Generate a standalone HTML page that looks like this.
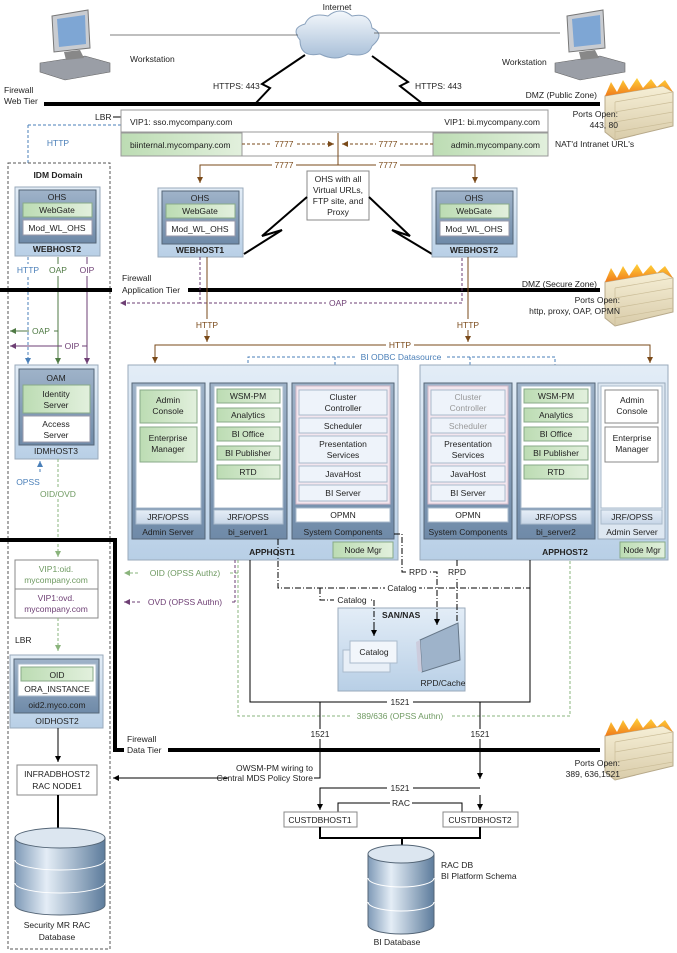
<!DOCTYPE html>
<html><head><meta charset="utf-8"><style>
html,body{margin:0;padding:0;background:#fff}
svg{display:block;font-family:"Liberation Sans",sans-serif}
text{font-size:8.5px;fill:#222}
.c{text-anchor:middle}.r{text-anchor:end}.b{font-weight:bold}
</style></head><body>
<svg width="677" height="953" viewBox="0 0 677 953" xmlns="http://www.w3.org/2000/svg">
<defs>
<linearGradient id="host" x1="0" y1="0" x2="0" y2="1"><stop offset="0" stop-color="#e3edf7"/><stop offset="1" stop-color="#b8cfe6"/></linearGradient>
<linearGradient id="col" x1="0" y1="0" x2="0" y2="1"><stop offset="0" stop-color="#9fb3c9"/><stop offset="1" stop-color="#6f8aa8"/></linearGradient>
<linearGradient id="grn" x1="0" y1="0" x2="1" y2="0"><stop offset="0" stop-color="#bcdcb3"/><stop offset="1" stop-color="#e2f0dd"/></linearGradient>
<linearGradient id="jrf" x1="0" y1="0" x2="0" y2="1"><stop offset="0" stop-color="#e6eef7"/><stop offset="1" stop-color="#c7d6e7"/></linearGradient>
<linearGradient id="cyl" x1="0" y1="0" x2="1" y2="0"><stop offset="0" stop-color="#7f9ab7"/><stop offset=".35" stop-color="#e4edf6"/><stop offset="1" stop-color="#5d7c9c"/></linearGradient>
<linearGradient id="wall" x1="0" y1="0" x2="0" y2="1"><stop offset="0" stop-color="#f6efd6"/><stop offset="1" stop-color="#d9ccaa"/></linearGradient>
<linearGradient id="fire" x1="0" y1="0" x2="0" y2="1"><stop offset="0" stop-color="#ffd23a"/><stop offset="1" stop-color="#f07a1a"/></linearGradient>
<linearGradient id="cloud" x1="0" y1="0" x2="0" y2="1"><stop offset="0" stop-color="#f4f8fc"/><stop offset="1" stop-color="#a8bfd8"/></linearGradient>
<marker id="ab" markerWidth="8" markerHeight="8" refX="6" refY="3" orient="auto"><path d="M0,0 L6,3 L0,6 z" fill="#000"/></marker>
<marker id="abr" markerWidth="8" markerHeight="8" refX="6" refY="3" orient="auto"><path d="M0,0 L6,3 L0,6 z" fill="#7a4a1a"/></marker>
<marker id="abl" markerWidth="8" markerHeight="8" refX="6" refY="3" orient="auto"><path d="M0,0 L6,3 L0,6 z" fill="#4a7fb8"/></marker>
<marker id="agr" markerWidth="8" markerHeight="8" refX="6" refY="3" orient="auto"><path d="M0,0 L6,3 L0,6 z" fill="#4f7a44"/></marker>
<marker id="apu" markerWidth="8" markerHeight="8" refX="6" refY="3" orient="auto"><path d="M0,0 L6,3 L0,6 z" fill="#6e3f74"/></marker>
<marker id="alg" markerWidth="8" markerHeight="8" refX="6" refY="3" orient="auto"><path d="M0,0 L6,3 L0,6 z" fill="#8ab47c"/></marker>
<g id="ws">
<path d="M12,8 L48,2 L50,40 L14,44 z" fill="#c9ccd1" stroke="#777"/>
<path d="M17,11 L45,7 L46,36 L19,39 z" fill="#7ea6d4"/>
<path d="M0,55 L45,48 L70,55 L70,64 L25,72 L0,64 z" fill="#9a9ea6" stroke="#666" stroke-width=".6"/>
<path d="M24,44 L40,42 L44,50 L26,52 z" fill="#888"/>
</g>
<g id="fw">
<path d="M4,14 L62,4 L72,10 L72,44 L14,58 L4,50 z" fill="url(#wall)" stroke="#b7a98a"/>
<path d="M4,14 L10,0 L16,10 L22,-2 L28,8 L36,-4 L42,6 L50,-3 L56,5 L64,-2 L72,10 L62,4 z" fill="url(#fire)"/>
<path d="M14,20 L72,10 M14,30 L72,20 M14,40 L72,30 M14,50 L72,40 M14,20 L14,58" stroke="#cbbd98" stroke-width=".7" fill="none"/>
</g>
<g id="wh">
<rect x="0" y="0" width="85" height="69" fill="url(#host)" stroke="#9ab"/>
<rect x="4" y="3" width="77" height="53" fill="url(#col)" stroke="#567"/>
<text x="42" y="13" class="c">OHS</text>
<rect x="8" y="16" width="69" height="14" fill="url(#grn)" stroke="#8a8"/>
<text x="42" y="26" class="c">WebGate</text>
<rect x="8" y="33" width="69" height="15" fill="#fff" stroke="#99a"/>
<text x="42" y="44" class="c">Mod_WL_OHS</text>
</g>
</defs>

<text x="337" y="10" class="c">Internet</text>
<path d="M300,40 Q290,28 305,24 Q310,12 328,16 Q340,6 352,16 Q370,12 372,28 Q386,34 372,46 Q368,58 348,54 Q336,62 320,54 Q300,58 300,40 z" fill="url(#cloud)" stroke="#8aa2bd"/>
<line x1="110" y1="35" x2="298" y2="35" stroke="#555" stroke-width=".8"/>
<line x1="374" y1="33" x2="560" y2="33" stroke="#555" stroke-width=".8"/>
<use href="#ws" x="40" y="8"/>
<text x="130" y="62">Workstation</text>
<use href="#ws" x="555" y="8"/>
<text x="502" y="65">Workstation</text>
<path d="M305,55 L262,84 L270,88 L255,104" stroke="#000" stroke-width="2" fill="none"/>
<path d="M372,56 L408,82 L400,86 L423,104" stroke="#000" stroke-width="2" fill="none"/>
<text x="213" y="89">HTTPS: 443</text>
<text x="415" y="89">HTTPS: 443</text>

<text x="4" y="93">Firewall</text><text x="4" y="104">Web Tier</text>
<rect x="44" y="102" width="556" height="4" fill="#000"/>
<text x="597" y="98" class="r">DMZ (Public Zone)</text>
<use href="#fw" x="601" y="82"/>
<text x="618" y="117" class="r">Ports Open:</text><text x="618" y="128" class="r">443, 80</text>
<text x="555" y="147">NAT'd Intranet URL's</text>

<text x="95" y="120">LBR</text><line x1="113" y1="117" x2="121" y2="117" stroke="#000"/>
<line x1="28" y1="125" x2="121" y2="125" stroke="#4a7fb8" stroke-dasharray="3,2"/>
<line x1="28" y1="125" x2="28" y2="163" stroke="#4a7fb8" stroke-dasharray="3,2"/>
<text x="58" y="146" class="c" style="fill:#4a7fb8">HTTP</text>
<rect x="121" y="110" width="427" height="46" fill="#fff" stroke="#999"/>
<text x="130" y="125">VIP1: sso.mycompany.com</text>
<text x="540" y="125" class="r">VIP1: bi.mycompany.com</text>
<line x1="121" y1="132" x2="548" y2="132" stroke="#999"/>
<rect x="121" y="133" width="121" height="23" fill="url(#grn)" stroke="#999"/>
<rect x="433" y="133" width="115" height="23" fill="url(#grn)" stroke="#999"/>
<text x="130" y="148">biinternal.mycompany.com</text>
<text x="540" y="148" class="r">admin.mycompany.com</text>
<line x1="338" y1="133" x2="338" y2="165" stroke="#7a4a1a"/>
<line x1="242" y1="144" x2="334" y2="144" stroke="#7a4a1a" stroke-dasharray="3,2" marker-end="url(#abr)"/>
<line x1="433" y1="144" x2="342" y2="144" stroke="#7a4a1a" stroke-dasharray="3,2" marker-end="url(#abr)"/>
<rect x="272" y="138" width="24" height="11" fill="#fff"/><text x="284" y="147" class="c" style="fill:#7a4a1a">7777</text>
<rect x="376" y="138" width="24" height="11" fill="#fff"/><text x="388" y="147" class="c" style="fill:#7a4a1a">7777</text>
<path d="M200,182 V165 H475 V182" stroke="#7a4a1a" fill="none"/>
<line x1="200" y1="170" x2="200" y2="183" stroke="#7a4a1a" marker-end="url(#abr)"/>
<line x1="475" y1="170" x2="475" y2="183" stroke="#7a4a1a" marker-end="url(#abr)"/>
<rect x="272" y="160" width="24" height="11" fill="#fff"/><text x="284" y="168" class="c" style="fill:#7a4a1a">7777</text>
<rect x="376" y="160" width="24" height="11" fill="#fff"/><text x="388" y="168" class="c" style="fill:#7a4a1a">7777</text>

<rect x="307" y="171" width="62" height="49" fill="#fff" stroke="#888"/>
<text x="338" y="182" class="c">OHS with all</text><text x="338" y="193" class="c">Virtual URLs,</text><text x="338" y="204" class="c">FTP site, and</text><text x="338" y="215" class="c">Proxy</text>
<path d="M307,197 L262,236 L282,230 L244,254" stroke="#000" stroke-width="2" fill="none"/>
<path d="M369,197 L410,236 L392,230 L432,254" stroke="#000" stroke-width="2" fill="none"/>

<use href="#wh" x="158" y="188"/><text x="200" y="253" class="c b">WEBHOST1</text>
<use href="#wh" x="432" y="188"/><text x="474" y="253" class="c b">WEBHOST2</text>

<rect x="8" y="163" width="102" height="786" fill="none" stroke="#555" stroke-dasharray="3,2"/>
<text x="58" y="178" class="c b">IDM Domain</text>
<use href="#wh" x="15" y="187"/><text x="57" y="252" class="c b">WEBHOST2</text>
<line x1="28" y1="257" x2="28" y2="364" stroke="#4a7fb8" stroke-dasharray="3,2" marker-end="url(#abl)"/>
<line x1="58" y1="257" x2="58" y2="364" stroke="#4f7a44" marker-end="url(#agr)"/>
<line x1="87" y1="257" x2="87" y2="364" stroke="#6e3f74" marker-end="url(#apu)"/>
<rect x="18" y="264" width="80" height="12" fill="#fff"/>
<text x="28" y="273" class="c" style="fill:#4a7fb8">HTTP</text>
<text x="58" y="273" class="c" style="fill:#4f7a44">OAP</text>
<text x="87" y="273" class="c" style="fill:#6e3f74">OIP</text>
<line x1="58" y1="331" x2="10" y2="331" stroke="#4f7a44" marker-end="url(#agr)"/>
<rect x="29" y="326" width="25" height="10" fill="#fff"/><text x="41" y="334" class="c" style="fill:#4f7a44">OAP</text>
<line x1="87" y1="346" x2="10" y2="346" stroke="#6e3f74" marker-end="url(#apu)"/>
<rect x="62" y="341" width="20" height="10" fill="#fff"/><text x="72" y="349" class="c" style="fill:#6e3f74">OIP</text>

<rect x="0" y="288" width="112" height="4" fill="#000"/>
<rect x="188" y="288" width="412" height="4" fill="#000"/>
<text x="122" y="281">Firewall</text><text x="122" y="293">Application Tier</text>
<text x="597" y="287" class="r">DMZ (Secure Zone)</text>
<use href="#fw" x="601" y="268"/>
<text x="620" y="303" class="r">Ports Open:</text><text x="620" y="314" class="r">http, proxy, OAP, OPMN</text>

<path d="M200,257 V303 H462 V257" stroke="#6e3f74" stroke-dasharray="3,2" fill="none"/>
<line x1="200" y1="303" x2="120" y2="303" stroke="#6e3f74" stroke-dasharray="3,2" marker-end="url(#apu)"/>
<rect x="326" y="298" width="24" height="10" fill="#fff"/><text x="338" y="306" class="c" style="fill:#6e3f74">OAP</text>
<line x1="207" y1="257" x2="207" y2="342" stroke="#7a4a1a" marker-end="url(#abr)"/>
<line x1="468" y1="257" x2="468" y2="342" stroke="#7a4a1a" marker-end="url(#abr)"/>
<rect x="194" y="319" width="26" height="11" fill="#fff"/><text x="207" y="328" class="c" style="fill:#7a4a1a">HTTP</text>
<rect x="455" y="319" width="26" height="11" fill="#fff"/><text x="468" y="328" class="c" style="fill:#7a4a1a">HTTP</text>
<path d="M155,362 V345 H650 V362" stroke="#7a4a1a" fill="none"/>
<line x1="155" y1="350" x2="155" y2="363" stroke="#7a4a1a" marker-end="url(#abr)"/>
<line x1="650" y1="350" x2="650" y2="363" stroke="#7a4a1a" marker-end="url(#abr)"/>
<rect x="386" y="340" width="28" height="10" fill="#fff"/><text x="400" y="348" class="c" style="fill:#7a4a1a">HTTP</text>
<path d="M248,368 V357 H555 V368" stroke="#4a7fb8" stroke-dasharray="3,2" fill="none"/>
<line x1="335" y1="357" x2="335" y2="376" stroke="#4a7fb8" stroke-dasharray="3,2" marker-end="url(#abl)"/>
<line x1="470" y1="357" x2="470" y2="376" stroke="#4a7fb8" stroke-dasharray="3,2" marker-end="url(#abl)"/>
<rect x="355" y="352" width="92" height="10" fill="#fff"/><text x="401" y="360" class="c" style="fill:#4a7fb8">BI ODBC Datasource</text>

<rect x="15" y="365" width="83" height="94" fill="url(#host)" stroke="#9ab"/>
<rect x="19" y="369" width="75" height="76" fill="url(#col)" stroke="#567"/>
<text x="56" y="381" class="c">OAM</text>
<rect x="23" y="385" width="67" height="28" fill="url(#grn)" stroke="#8a8"/>
<text x="56" y="397" class="c">Identity</text><text x="56" y="408" class="c">Server</text>
<rect x="23" y="416" width="67" height="26" fill="#fff" stroke="#99a"/>
<text x="56" y="427" class="c">Access</text><text x="56" y="438" class="c">Server</text>
<text x="56" y="454" class="c">IDMHOST3</text>
<line x1="40" y1="472" x2="40" y2="461" stroke="#4a7fb8" stroke-dasharray="3,2" marker-end="url(#abl)"/>
<text x="28" y="485" class="c" style="fill:#4a7fb8">OPSS</text>
<line x1="58" y1="459" x2="58" y2="557" stroke="#8ab47c" stroke-dasharray="3,2" marker-end="url(#alg)"/>
<rect x="34" y="489" width="48" height="10" fill="#fff"/><text x="58" y="497" class="c" style="fill:#6f9a62">OID/OVD</text>

<rect x="128" y="365" width="270" height="195" fill="url(#host)" stroke="#9ab"/>
<rect x="132" y="383" width="73" height="156" fill="url(#col)" stroke="#567"/>
<rect x="136" y="386" width="65" height="122" fill="#fff" stroke="#abc"/>
<rect x="140" y="390" width="57" height="33" fill="url(#grn)" stroke="#8a8"/>
<text x="168" y="403" class="c">Admin</text><text x="168" y="414" class="c">Console</text>
<rect x="140" y="427" width="57" height="35" fill="url(#grn)" stroke="#8a8"/>
<text x="168" y="441" class="c">Enterprise</text><text x="168" y="452" class="c">Manager</text>
<rect x="136" y="510" width="65" height="14" fill="url(#jrf)" stroke="#abc"/><text x="168" y="520" class="c">JRF/OPSS</text>
<text x="168" y="535" class="c">Admin Server</text>

<rect x="210" y="383" width="77" height="156" fill="url(#col)" stroke="#567"/>
<rect x="214" y="386" width="69" height="122" fill="#fff" stroke="#abc"/>
<g fill="url(#grn)" stroke="#8a8">
<rect x="217" y="389" width="63" height="14"/><rect x="217" y="408" width="63" height="14"/><rect x="217" y="427" width="63" height="14"/><rect x="217" y="446" width="63" height="14"/><rect x="217" y="465" width="63" height="14"/>
</g>
<text x="248" y="399" class="c">WSM-PM</text><text x="248" y="418" class="c">Analytics</text><text x="248" y="437" class="c">BI Office</text><text x="248" y="456" class="c">BI Publisher</text><text x="248" y="475" class="c">RTD</text>
<rect x="214" y="510" width="69" height="14" fill="url(#jrf)" stroke="#abc"/><text x="248" y="520" class="c">JRF/OPSS</text>
<text x="248" y="535" class="c">bi_server1</text>

<rect x="292" y="383" width="102" height="156" fill="url(#col)" stroke="#567"/>
<rect x="296" y="386" width="94" height="118" fill="#f3e6ee" stroke="#d3b9c8"/>
<g fill="#eef3fa" stroke="#abc">
<rect x="299" y="390" width="88" height="25"/><rect x="299" y="418" width="88" height="15"/><rect x="299" y="436" width="88" height="27"/><rect x="299" y="466" width="88" height="16"/><rect x="299" y="485" width="88" height="16"/>
</g>
<text x="343" y="400" class="c">Cluster</text><text x="343" y="411" class="c">Controller</text>
<text x="343" y="429" class="c">Scheduler</text>
<text x="343" y="447" class="c">Presentation</text><text x="343" y="458" class="c">Services</text>
<text x="343" y="477" class="c">JavaHost</text><text x="343" y="496" class="c">BI Server</text>
<rect x="296" y="508" width="94" height="14" fill="#fff" stroke="#abc"/><text x="343" y="518" class="c">OPMN</text>
<text x="343" y="535" class="c">System Components</text>
<text x="272" y="555" class="c b">APPHOST1</text>
<rect x="333" y="542" width="60" height="16" fill="url(#grn)" stroke="#8a8"/><text x="363" y="553" class="c">Node Mgr</text>

<rect x="420" y="365" width="248" height="195" fill="url(#host)" stroke="#9ab"/>
<rect x="424" y="383" width="88" height="156" fill="url(#col)" stroke="#567"/>
<rect x="428" y="386" width="80" height="118" fill="#f3e6ee" stroke="#d3b9c8"/>
<g fill="#eef3fa" stroke="#abc">
<rect x="431" y="390" width="74" height="25"/><rect x="431" y="418" width="74" height="15"/><rect x="431" y="436" width="74" height="27"/><rect x="431" y="466" width="74" height="16"/><rect x="431" y="485" width="74" height="16"/>
</g>
<text x="468" y="400" class="c" style="fill:#999">Cluster</text><text x="468" y="411" class="c" style="fill:#999">Controller</text>
<text x="468" y="429" class="c" style="fill:#999">Scheduler</text>
<text x="468" y="447" class="c">Presentation</text><text x="468" y="458" class="c">Services</text>
<text x="468" y="477" class="c">JavaHost</text><text x="468" y="496" class="c">BI Server</text>
<rect x="428" y="508" width="80" height="14" fill="#fff" stroke="#abc"/><text x="468" y="518" class="c">OPMN</text>
<text x="468" y="535" class="c">System Components</text>

<rect x="517" y="383" width="78" height="156" fill="url(#col)" stroke="#567"/>
<rect x="521" y="386" width="70" height="122" fill="#fff" stroke="#abc"/>
<g fill="url(#grn)" stroke="#8a8">
<rect x="524" y="389" width="64" height="14"/><rect x="524" y="408" width="64" height="14"/><rect x="524" y="427" width="64" height="14"/><rect x="524" y="446" width="64" height="14"/><rect x="524" y="465" width="64" height="14"/>
</g>
<text x="556" y="399" class="c">WSM-PM</text><text x="556" y="418" class="c">Analytics</text><text x="556" y="437" class="c">BI Office</text><text x="556" y="456" class="c">BI Publisher</text><text x="556" y="475" class="c">RTD</text>
<rect x="521" y="510" width="70" height="14" fill="url(#jrf)" stroke="#abc"/><text x="556" y="520" class="c">JRF/OPSS</text>
<text x="556" y="535" class="c">bi_server2</text>

<rect x="598" y="383" width="67" height="156" fill="#dde7f1" stroke="#9ab"/>
<rect x="601" y="386" width="61" height="122" fill="#fff" stroke="#abc"/>
<rect x="605" y="390" width="53" height="33" fill="#fff" stroke="#888"/>
<text x="632" y="403" class="c">Admin</text><text x="632" y="414" class="c">Console</text>
<rect x="605" y="427" width="53" height="35" fill="#fff" stroke="#888"/>
<text x="632" y="441" class="c">Enterprise</text><text x="632" y="452" class="c">Manager</text>
<rect x="601" y="510" width="61" height="14" fill="url(#jrf)" stroke="#abc"/><text x="632" y="520" class="c">JRF/OPSS</text>
<text x="632" y="535" class="c">Admin Server</text>
<text x="565" y="555" class="c b">APPHOST2</text>
<rect x="620" y="542" width="45" height="16" fill="url(#grn)" stroke="#8a8"/><text x="642" y="553" class="c">Node Mgr</text>

<path d="M0,540 H115 V750 H600" stroke="#000" stroke-width="4" fill="none"/>
<rect x="124" y="733" width="44" height="24" fill="#fff"/>
<text x="127" y="742">Firewall</text><text x="127" y="753">Data Tier</text>
<use href="#fw" x="601" y="722"/>
<text x="620" y="766" class="r">Ports Open:</text><text x="620" y="777" class="r">389, 636,1521</text>

<rect x="15" y="560" width="83" height="58" fill="#fff" stroke="#888"/>
<line x1="15" y1="589" x2="98" y2="589" stroke="#888"/>
<text x="56" y="572" class="c" style="fill:#6f9a62">VIP1:oid.</text><text x="56" y="583" class="c" style="fill:#6f9a62">mycompany.com</text>
<text x="56" y="601" class="c" style="fill:#6e3f74">VIP1:ovd.</text><text x="56" y="612" class="c" style="fill:#6e3f74">mycompany.com</text>
<text x="15" y="643">LBR</text>
<line x1="58" y1="618" x2="58" y2="651" stroke="#8ab47c" stroke-dasharray="3,2" marker-end="url(#alg)"/>
<rect x="10" y="655" width="93" height="73" fill="url(#host)" stroke="#9ab"/>
<rect x="14" y="659" width="85" height="54" fill="url(#col)" stroke="#567"/>
<rect x="18" y="664" width="78" height="32" fill="#fff" stroke="#abc"/>
<rect x="21" y="667" width="72" height="14" fill="url(#grn)" stroke="#8a8"/>
<text x="57" y="678" class="c">OID</text>
<text x="57" y="692" class="c">ORA_INSTANCE</text>
<text x="57" y="708" class="c">oid2.myco.com</text>
<text x="57" y="724" class="c">OIDHOST2</text>
<line x1="58" y1="728" x2="58" y2="762" stroke="#000" marker-end="url(#ab)"/>
<rect x="17" y="765" width="80" height="30" fill="#fff" stroke="#888"/>
<text x="57" y="777" class="c">INFRADBHOST2</text><text x="57" y="789" class="c">RAC NODE1</text>
<line x1="58" y1="795" x2="58" y2="830" stroke="#000" stroke-width="2"/>
<path d="M15,838 V905 A45,10 0 0 0 105,905 V838" fill="url(#cyl)" stroke="#567"/>
<path d="M15,860 A45,10 0 0 0 105,860 M15,883 A45,10 0 0 0 105,883" stroke="#fff" fill="none"/>
<ellipse cx="60" cy="838" rx="45" ry="10" fill="#dce6f0" stroke="#567"/>
<text x="57" y="928" class="c">Security MR RAC</text><text x="57" y="940" class="c">Database</text>

<line x1="238" y1="573" x2="124" y2="573" stroke="#8ab47c" stroke-dasharray="3,2" marker-end="url(#alg)"/>
<rect x="140" y="568" width="90" height="10" fill="#fff"/><text x="185" y="576" class="c" style="fill:#6f9a62">OID (OPSS Authz)</text>
<line x1="235" y1="602" x2="124" y2="602" stroke="#6e3f74" stroke-dasharray="3,2" marker-end="url(#apu)"/>
<rect x="140" y="597" width="90" height="10" fill="#fff"/><text x="185" y="605" class="c" style="fill:#6e3f74">OVD (OPSS Authn)</text>
<line x1="235" y1="560" x2="235" y2="602" stroke="#6e3f74" stroke-dasharray="3,2"/>
<path d="M238,560 V716 H570 V560" stroke="#8ab47c" stroke-dasharray="3,2" fill="none"/>
<rect x="350" y="711" width="100" height="10" fill="#fff"/><text x="400" y="719" class="c" style="fill:#6f9a62">389/636 (OPSS Authn)</text>

<path d="M250,560 V702 H530 V560" stroke="#000" fill="none"/>
<rect x="387" y="697" width="26" height="10" fill="#fff"/><text x="400" y="705" class="c">1521</text>
<path d="M320,702 V778 H113" stroke="#000" fill="none" marker-end="url(#ab)"/>
<line x1="480" y1="702" x2="480" y2="779" stroke="#000" marker-end="url(#ab)"/>
<rect x="308" y="729" width="24" height="10" fill="#fff"/><text x="320" y="737" class="c">1521</text>
<rect x="468" y="729" width="24" height="10" fill="#fff"/><text x="480" y="737" class="c">1521</text>
<text x="313" y="771" class="r">OWSM-PM wiring to</text>
<rect x="228" y="774" width="86" height="9" fill="#fff"/><text x="313" y="781" class="r">Central MDS Policy Store</text>

<rect x="338" y="608" width="127" height="83" fill="url(#host)" stroke="#9ab"/>
<text x="382" y="618" class="b">SAN/NAS</text>
<rect x="343" y="650" width="47" height="22" fill="#e8eff7" stroke="#abc"/>
<rect x="350" y="641" width="47" height="22" fill="#f2f6fb" stroke="#abc"/>
<text x="374" y="655" class="c">Catalog</text>
<path d="M420,640 L458,623 L460,660 L422,672 z" fill="#9eb3ca" stroke="#678"/>
<path d="M420,640 L422,672 L418,671 L416,642 z" fill="#ccd"/>
<text x="443" y="686" class="c">RPD/Cache</text>

<g stroke="#000" fill="none" stroke-dasharray="6,2,1,2">
<path d="M278,539 V588 H530 V560"/>
<path d="M320,588 V600 H374 V632"/>
<path d="M394,534 H402 V572 H437 V621"/>
<path d="M457,560 V622"/>
</g>
<line x1="374" y1="628" x2="374" y2="636" stroke="#000" marker-end="url(#ab)"/>
<line x1="437" y1="617" x2="437" y2="625" stroke="#000" marker-end="url(#ab)"/>
<rect x="385" y="583" width="34" height="10" fill="#fff"/><text x="402" y="591" class="c">Catalog</text>
<rect x="334" y="595" width="36" height="10" fill="#fff"/><text x="352" y="603" class="c">Catalog</text>
<rect x="407" y="567" width="22" height="10" fill="#fff"/><text x="418" y="575" class="c">RPD</text>
<rect x="446" y="567" width="22" height="10" fill="#fff"/><text x="457" y="575" class="c">RPD</text>

<path d="M320,806 V788 H480" stroke="#000" fill="none"/>
<line x1="320" y1="795" x2="320" y2="810" stroke="#000" marker-end="url(#ab)"/>
<line x1="480" y1="795" x2="480" y2="810" stroke="#000" marker-end="url(#ab)"/>
<rect x="387" y="783" width="26" height="10" fill="#fff"/><text x="400" y="791" class="c">1521</text>
<path d="M338,812 V803 H462 V812" stroke="#000" fill="none"/>
<rect x="390" y="798" width="22" height="10" fill="#fff"/><text x="401" y="806" class="c">RAC</text>
<rect x="284" y="812" width="73" height="15" fill="#fff" stroke="#888"/><text x="320" y="823" class="c">CUSTDBHOST1</text>
<rect x="443" y="812" width="75" height="15" fill="#fff" stroke="#888"/><text x="480" y="823" class="c">CUSTDBHOST2</text>
<path d="M320,827 V838 H480 V827 M402,838 V848" stroke="#000" stroke-width="2" fill="none"/>
<path d="M368,854 V925 A33,9 0 0 0 434,925 V854" fill="url(#cyl)" stroke="#567"/>
<path d="M368,878 A33,9 0 0 0 434,878 M368,902 A33,9 0 0 0 434,902" stroke="#fff" fill="none"/>
<ellipse cx="401" cy="854" rx="33" ry="9" fill="#dce6f0" stroke="#567"/>
<text x="441" y="868">RAC DB</text><text x="441" y="879">BI Platform Schema</text>
<text x="397" y="945" class="c">BI Database</text>
</svg>
</body></html>
